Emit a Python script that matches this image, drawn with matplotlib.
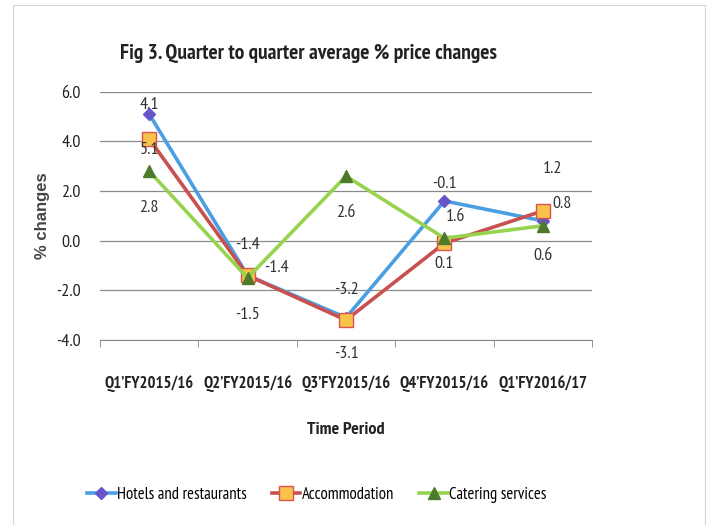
import numpy as np
import matplotlib
matplotlib.use("Agg")
import matplotlib.pyplot as plt
from matplotlib.patches import Rectangle

plt.rcParams["font.family"] = ["PT Sans Narrow", "DejaVu Sans"]

periods = ["Q1\u2019FY2015/16", "Q2\u2019FY2015/16", "Q3\u2019FY2015/16",
           "Q4\u2019FY2015/16", "Q1\u2019FY2016/17"]
hotels = [5.1, -1.4, -3.1, 1.6, 0.8]
accommodation = [4.1, -1.4, -3.2, -0.1, 1.2]
catering = [2.8, -1.5, 2.6, 0.1, 0.6]

# label offsets (pixels) to copy the hand-placed data labels of the original
hotels_off = [(0, -36), (0, 30), (0, -36), (11, -16), (19, 17)]
accom_off = [(0, 34), (29, 7), (0, 30), (0, 59), (10, 42)]
cater_off = [(0, -37), (0, -37), (0, -37), (0, -26), (0, -30)]

series = [
    ("Hotels and restaurants", hotels, hotels_off,
     dict(color="#4A9FE3", marker="D", markersize=6,
          markerfacecolor="#6A55C8", markeredgecolor="#6A55C8")),
    ("Accommodation", accommodation, accom_off,
     dict(color="#C8504F", marker="s", markersize=10,
          markerfacecolor="#F9C24A", markeredgecolor="#D9534F")),
    ("Catering services", catering, cater_off,
     dict(color="#98D34F", marker="^", markersize=8,
          markerfacecolor="#4E7A2C", markeredgecolor="#4E7A2C")),
]

fig = plt.figure(figsize=(7.06, 5.25), dpi=100)
ax = fig.add_axes([0.1416, 0.3524, 0.697, 0.4729])

x = np.arange(len(periods))
handles = []
for name, vals, offs, style in series:
    h, = ax.plot(x, vals, linewidth=2.6, label=name, **style)
    handles.append(h)
    for xi, v, (dx, dy) in zip(x, vals, offs):
        ax.annotate(f"{v:.1f}", (xi, v), xytext=(dx, dy),
                    textcoords="offset pixels", ha="center", va="center",
                    fontsize=13, color="#333333")

ax.set_xlim(-0.5, len(periods) - 0.5)
ax.set_ylim(-4.0, 6.0)
ax.set_yticks(np.arange(-4, 6.1, 2))
ax.set_yticklabels([f"{t:.1f}" for t in np.arange(-4, 6.1, 2)])
ax.set_xticks(x)
ax.set_xticklabels(periods, fontsize=12, fontweight="bold", color="#222222")
ax.tick_params(axis="y", length=0, labelsize=13, labelcolor="#222222", pad=14)
ax.tick_params(axis="x", length=0, pad=25)
ax.set_xticks(np.arange(-0.5, len(periods)), minor=True)
ax.tick_params(axis="x", which="minor", length=5, color="#888888")
ax.grid(axis="y", color="#8a8a8a", linewidth=0.9)
ax.set_axisbelow(True)
for s in ["top", "right", "left"]:
    ax.spines[s].set_visible(False)
ax.spines["bottom"].set_color("#888888")

ax.set_xlabel("Time Period", fontsize=13, fontweight="bold",
              color="#222222", labelpad=22)
ax.set_ylabel("% changes", fontsize=12, fontweight="bold", color="#444444",
              family=["Liberation Sans", "DejaVu Sans"], labelpad=4)

fig.text(0.437, 0.898, "Fig 3. Quarter to quarter average % price changes",
         ha="center", va="center", fontsize=15.5, fontweight="bold",
         color="#222222")

fig.legend(handles=handles, loc="center", bbox_to_anchor=(0.449, 0.058),
           ncol=3, frameon=False, fontsize=12, handlelength=1.7,
           handletextpad=0.1, columnspacing=1.5)

fig.patches.append(Rectangle((0.018, 0.0), 0.98, 0.99, transform=fig.transFigure,
                             fill=False, edgecolor="#cfd8dc", linewidth=0.8))

fig.savefig("out.png", dpi=100)
